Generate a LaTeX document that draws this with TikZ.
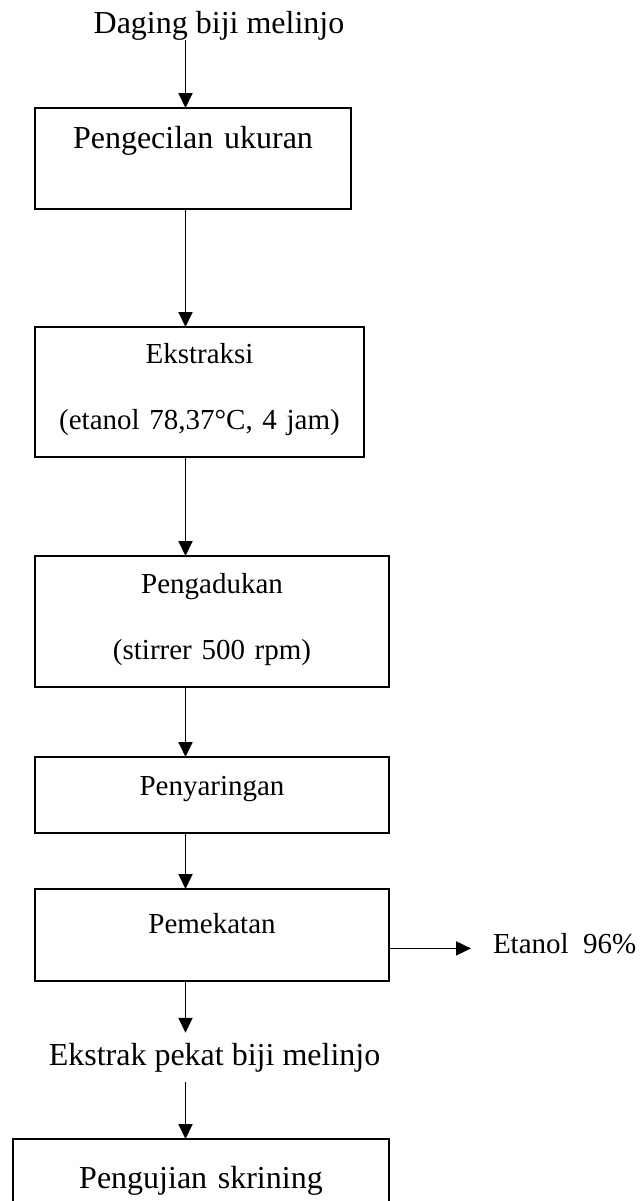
\documentclass[tikz,border=0pt]{standalone}
\usepackage{fontspec}
\setmainfont{Liberation Serif}
\usetikzlibrary{arrows.meta}
\newcommand{\hurufbesar}{\fontsize{16}{19}\selectfont}
\newcommand{\hurufkecil}{\fontsize{14.5}{33}\selectfont}

\begin{document}
\begin{tikzpicture}[x=0.5pt,y=0.5pt]
\tikzstyle{every node}+=[inner sep=0pt, outer sep=0pt]
\tikzstyle{kotak}=[draw, line width=0.9pt, anchor=north, align=center]
\tikzstyle{panah}=[line width=0.9pt, -{Triangle[length=7.5pt,width=7pt]}]
\useasboundingbox (0,0) rectangle (640,-1201);
\coordinate (poros) at (185.5,0);
\node [anchor=base, font=\hurufbesar] (daging) at (219,-33) {Daging biji melinjo};
\node [kotak, font=\hurufbesar, text width=158pt, text height=20pt, text depth=30.5pt] (kecil) at (193,-108) {Pengecilan ukuran};
\node [kotak, font=\hurufkecil, text width=164.5pt, text height=18pt, text depth=47pt] (ekstraksi) at (199.5,-327) {Ekstraksi\\(etanol 78,37°C, 4 jam)};
\node [kotak, font=\hurufkecil, text width=177pt, text height=18.5pt, text depth=47pt] (aduk) at (212,-556) {Pengadukan\\(stirrer 500 rpm)};
\node [kotak, font=\hurufkecil, text width=177pt, text height=19pt, text depth=19pt] (saring) at (212,-757) {Penyaringan};
\node [kotak, font=\hurufkecil, text width=177pt, text height=22pt, text depth=24pt] (pekat) at (212,-889) {Pemekatan};
\node [anchor=base west, font=\fontsize{14.5}{17}\selectfont] (etanol) at (493,-953) {Etanol\ \ 96\%};
\node [anchor=base, font=\hurufbesar, inner ysep=5pt] (ekstrak) at (214.5,-1065) {Ekstrak pekat biji melinjo};
\node [kotak, font=\hurufbesar, text width=188pt, text height=24.5pt, text depth=30pt] (uji) at (201,-1139) {Pengujian skrining};
% alur utama
\draw [panah] (daging.south -| poros) -- (kecil.north -| poros);
\draw [panah] (kecil.south -| poros) -- (ekstraksi.north -| poros);
\draw [panah] (ekstraksi.south -| poros) -- (aduk.north -| poros);
\draw [panah] (aduk.south -| poros) -- (saring.north -| poros);
\draw [panah] (saring.south -| poros) -- (pekat.north -| poros);
\draw [panah] (pekat.south -| poros) -- (ekstrak.north -| poros);
\draw [panah] (ekstrak.south -| poros) -- (uji.north -| poros);
\draw [panah] (pekat.east |- etanol.mid west) -- ([xshift=-11pt]etanol.mid west);
\end{tikzpicture}
\end{document}
